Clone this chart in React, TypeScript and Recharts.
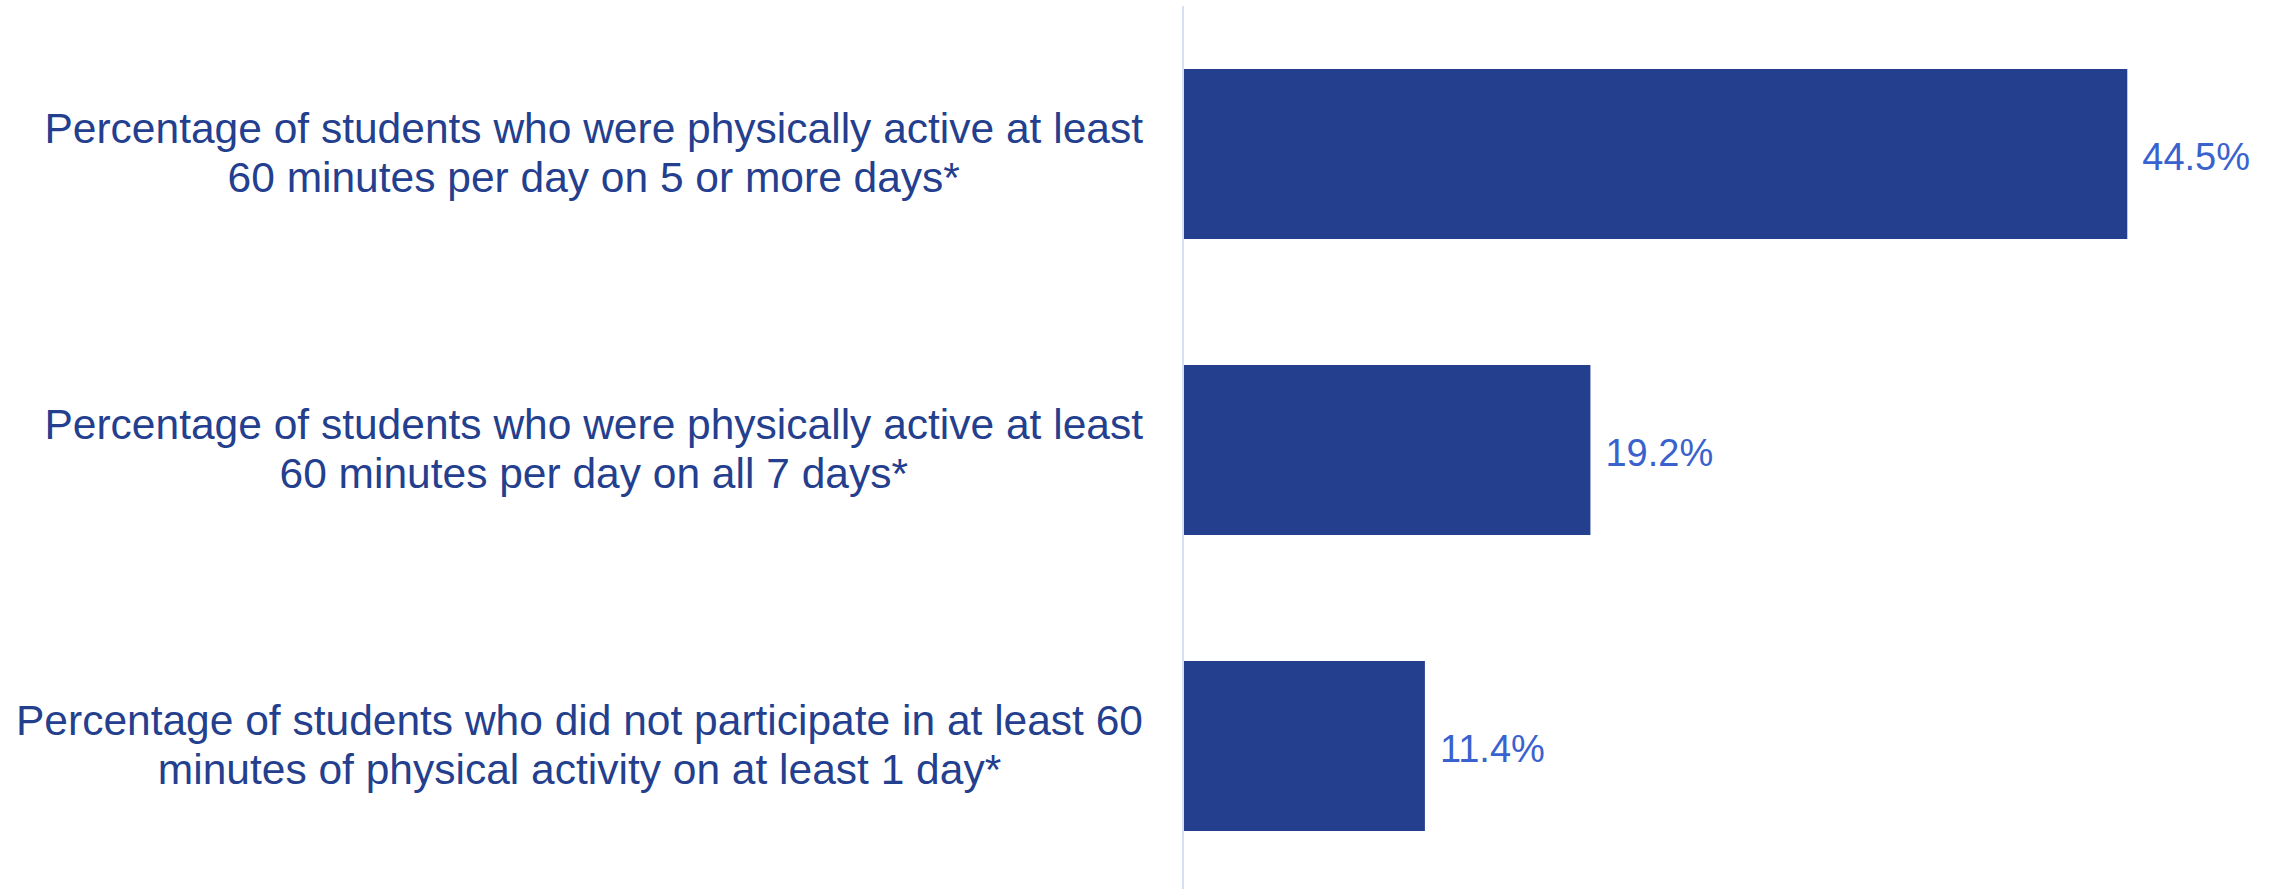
import { BarChart, Bar, XAxis, YAxis, LabelList } from 'recharts';

const categories = [
  'Percentage of students who were physically active at least\n60 minutes per day on 5 or more days*',
  'Percentage of students who were physically active at least\n60 minutes per day on all 7 days*',
  'Percentage of students who did not participate in at least 60\nminutes of physical activity on at least 1 day*',
];
const values = [44.5, 19.2, 11.4];
const valueLabels = ['44.5%', '19.2%', '11.4%'];

const data = categories.map((name, i) => ({ name, value: values[i], label: valueLabels[i] }));

const BAR_COLOR = '#243F8E';
const TEXT_COLOR = '#243F8E';
const VALUE_COLOR = '#3A62CF';
const FONT = '"Liberation Sans", Arial, sans-serif';
const CAT_SIZE = 42.5;
const AXIS_W = 1183;

let ctx: CanvasRenderingContext2D | null = null;
function textWidth(s: string) {
  if (!ctx) ctx = document.createElement('canvas').getContext('2d');
  if (!ctx) return s.length * CAT_SIZE * 0.5;
  ctx.font = `${CAT_SIZE}px "Liberation Sans"`;
  return ctx.measureText(s).width;
}

function CategoryTick(props: any) {
  const { y, payload } = props;
  const lines: string[] = String(payload.value).split('\n');
  const widest = Math.max(...lines.map(textWidth));
  const right = AXIS_W - 40;
  const cx = right - widest / 2;
  return (
    <g>
      {lines.map((line, i) => (
        <text
          key={i}
          x={cx}
          y={y - 11 + i * 49}
          textAnchor="middle"
          fill={TEXT_COLOR}
          fontSize={CAT_SIZE}
          fontFamily={FONT}
        >
          {line}
        </text>
      ))}
    </g>
  );
}

function ValueLabel(props: any) {
  const { x, y, width, height, index } = props;
  return (
    <text
      x={x + width + 15}
      y={y + height / 2 + 16}
      fill={VALUE_COLOR}
      fontSize={38}
      fontFamily={FONT}
    >
      {valueLabels[index]}
    </text>
  );
}

export default function App() {
  return (
    <div style={{ position: 'absolute', left: 0, top: 0, background: '#fff' }}>
      <BarChart
        width={2279}
        height={900}
        data={data}
        layout="vertical"
        margin={{ top: 6, right: 35, bottom: 6, left: 0 }}
      >
        <XAxis type="number" domain={[0, 50]} hide />
        <YAxis
          type="category"
          dataKey="name"
          width={AXIS_W}
          axisLine={{ stroke: '#D8DFF3', strokeWidth: 2 }}
          tickLine={false}
          tick={<CategoryTick />}
          interval={0}
        />
        <Bar dataKey="value" fill={BAR_COLOR} barSize={170} isAnimationActive={false}>
          <LabelList dataKey="label" content={<ValueLabel />} />
        </Bar>
      </BarChart>
    </div>
  );
}
